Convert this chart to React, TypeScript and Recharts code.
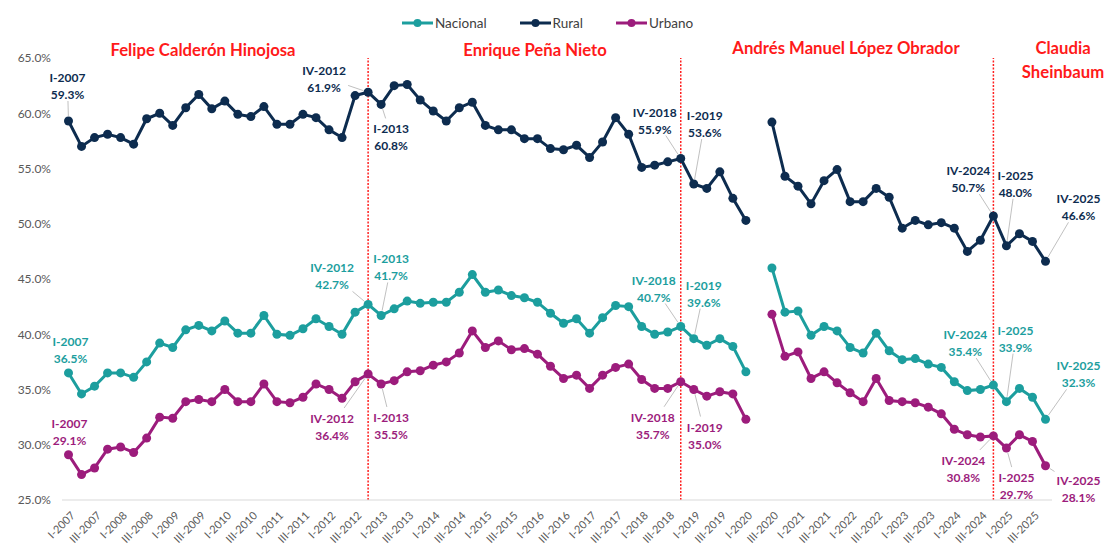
import { LabelList, Line, LineChart, ReferenceLine, XAxis, YAxis } from "recharts";

const YEARS = [2007, 2008, 2009, 2010, 2011, 2012, 2013, 2014, 2015, 2016, 2017, 2018, 2019, 2020, 2021, 2022, 2023, 2024, 2025];
const QUARTERS = ["I", "II", "III", "IV"];
const CATEGORIES = YEARS.flatMap((y) => QUARTERS.map((q) => `${q}-${y}`));

// II-2020 has no survey value, so the lines break there
const RURAL = [
  59.3, 57.0, 57.8, 58.1, 57.8, 57.2, 59.5, 60.0, 58.9, 60.5, 61.7, 60.4, 61.1, 59.9, 59.7, 60.6, 59.0, 59.0, 59.9, 59.6, 58.5, 57.8, 61.6, 61.9,
  60.8, 62.5, 62.6, 61.2, 60.2, 59.3, 60.5, 61.0, 58.9, 58.5, 58.5, 57.7, 57.7, 56.8, 56.7, 57.1, 56.0, 57.4, 59.6, 58.1, 55.1, 55.3, 55.6, 55.9,
  53.6, 53.2, 54.7, 52.3, 50.3, null,
  59.2, 54.3, 53.4, 51.8, 53.9, 54.9, 52.0, 52.0, 53.2, 52.4, 49.6, 50.3, 49.9, 50.1, 49.6, 47.5, 48.5, 50.7, 48.0, 49.1, 48.4, 46.6,
];
const NACIONAL = [
  36.5, 34.6, 35.3, 36.5, 36.5, 36.1, 37.5, 39.2, 38.8, 40.4, 40.8, 40.3, 41.2, 40.1, 40.1, 41.7, 40.0, 39.9, 40.5, 41.4, 40.7, 40.0, 42.0, 42.7,
  41.7, 42.3, 43.0, 42.8, 42.9, 42.9, 43.8, 45.4, 43.8, 44.0, 43.5, 43.3, 42.9, 41.9, 41.0, 41.4, 40.1, 41.5, 42.6, 42.5, 40.7, 40.0, 40.2, 40.7,
  39.6, 39.0, 39.6, 38.9, 36.6, null,
  46.0, 42.0, 42.1, 39.9, 40.7, 40.3, 38.8, 38.3, 40.1, 38.5, 37.7, 37.8, 37.3, 37.0, 35.7, 34.9, 35.0, 35.4, 33.9, 35.1, 34.3, 32.3,
];
const URBANO = [
  29.1, 27.3, 27.9, 29.6, 29.8, 29.3, 30.6, 32.5, 32.4, 33.9, 34.1, 33.9, 35.0, 33.9, 33.9, 35.5, 33.9, 33.8, 34.3, 35.5, 35.0, 34.2, 35.7, 36.4,
  35.5, 35.8, 36.6, 36.7, 37.2, 37.5, 38.3, 40.3, 38.8, 39.4, 38.6, 38.7, 38.2, 37.1, 36.0, 36.3, 35.1, 36.3, 37.0, 37.3, 35.9, 35.1, 35.1, 35.7,
  35.0, 34.4, 34.8, 34.6, 32.3, null,
  41.8, 38.0, 38.4, 36.0, 36.6, 35.6, 34.7, 33.9, 36.0, 34.0, 33.9, 33.8, 33.4, 32.8, 31.4, 30.9, 30.7, 30.8, 29.7, 30.9, 30.3, 28.1,
];

const Y_TICKS = [25, 30, 35, 40, 45, 50, 55, 60, 65];
const TERM_ENDS = ["IV-2012", "IV-2018", "IV-2024"];

const data = CATEGORIES.map((periodo, i) => ({
  periodo,
  nacional: NACIONAL[i],
  rural: RURAL[i],
  urbano: URBANO[i],
}));

const COLORS = { nacional: "#1c9e9e", rural: "#0d2c4f", urbano: "#9c1c7c" };

// label text-block centre, offset from the point (px)
const ANNOTATIONS: Record<string, Record<number, [number, number]>> = {
  rural: { 0: [-1, -37], 23: [-44, -15], 24: [10, 31], 47: [-26, -40], 48: [11, -62], 71: [-25, -39], 72: [9, -64], 75: [33, -56] },
  nacional: { 0: [2, -25], 23: [-36, -30], 24: [10, -50], 47: [-27, -40], 48: [10, -47], 71: [-28, -44], 72: [9, -65], 75: [33, -47] },
  urbano: { 0: [1, -25], 23: [-36, 51], 24: [10, 40], 47: [-28, 42], 48: [11, 44], 71: [-30, 31], 72: [10, 36], 75: [33, 21] },
};

const PRESIDENTS = [
  { name: "Felipe Calderón Hinojosa", x: 203, y: 50 },
  { name: "Enrique Peña Nieto", x: 535, y: 50 },
  { name: "Andrés Manuel López Obrador", x: 846, y: 48 },
  { name: "Claudia", x: 1063, y: 48 },
  { name: "Sheinbaum", x: 1063, y: 72 },
];

const makeAnnotation = (key: string, color: string) => (props: any) => {
  const { x, y, index, value } = props;
  const cfg = ANNOTATIONS[key][index];
  if (!cfg || value == null) return null;
  const cx = x + cfg[0];
  const cy = y + cfg[1];
  const dx = x - cx;
  const dy = y - cy;
  const t = Math.min(24 / Math.abs(dx || 0.001), 17 / Math.abs(dy || 0.001));
  const sx = cx + dx * t;
  const sy = cy + dy * t;
  const len = Math.hypot(dx, dy);
  const ex = x - (dx / len) * 5;
  const ey = y - (dy / len) * 5;
  const showLeader = t < 1 && Math.hypot(ex - sx, ey - sy) > 4;
  return (
    <g>
      {showLeader && <line x1={sx} y1={sy} x2={ex} y2={ey} stroke="#b0b0b0" strokeWidth={0.8} />}
      <text x={cx} y={cy} textAnchor="middle" fontSize={12} fontWeight={700} fill={color}>
        <tspan x={cx} dy={-2}>{CATEGORIES[index]}</tspan>
        <tspan x={cx} dy={17}>{`${Number(value).toFixed(1)}%`}</tspan>
      </text>
    </g>
  );
};

const XTick = ({ x, y, payload }: any) => (
  <text
    x={x + 4}
    y={y + 5}
    transform={`rotate(-45, ${x + 4}, ${y + 5})`}
    textAnchor="end"
    dominantBaseline="central"
    fontSize={11}
    fill="#595959"
  >
    {payload.value}
  </text>
);

const LEGEND = [
  { key: "nacional", label: "Nacional" },
  { key: "rural", label: "Rural" },
  { key: "urbano", label: "Urbano" },
];

export default function App() {
  return (
    <div style={{ position: "fixed", left: 0, top: 0, width: 1105, height: 547, background: "#fff", fontFamily: "Lato, sans-serif" }}>
      <div style={{ position: "absolute", left: 402, top: 13, display: "flex", alignItems: "center", height: 20 }}>
        {LEGEND.map(({ key, label }) => (
          <div key={key} style={{ display: "flex", alignItems: "center", marginRight: 33 }}>
            <svg width={31} height={10}>
              <line x1={0} y1={5} x2={31} y2={5} stroke={COLORS[key as keyof typeof COLORS]} strokeWidth={3} />
              <circle cx={15.5} cy={5} r={4} fill={COLORS[key as keyof typeof COLORS]} />
            </svg>
            <span style={{ fontSize: 13.5, color: "#404040", marginLeft: 2 }}>{label}</span>
          </div>
        ))}
      </div>
      {PRESIDENTS.map((p) => (
        <div
          key={p.name}
          style={{
            position: "absolute",
            left: p.x,
            top: p.y,
            transform: "translate(-50%, -50%)",
            color: "#ff1a1a",
            fontWeight: 700,
            fontSize: 16.7,
            whiteSpace: "nowrap",
          }}
        >
          {p.name}
        </div>
      ))}
      <LineChart width={1105} height={547} data={data} margin={{ top: 58, right: 53, bottom: 0, left: 8 }}>
        <XAxis
          dataKey="periodo"
          interval={1}
          height={47}
          tick={<XTick />}
          tickLine={false}
          axisLine={{ stroke: "#d9d9d9" }}
          padding={{ left: 6.5, right: 6.5 }}
        />
        <YAxis
          domain={[25, 65]}
          ticks={Y_TICKS}
          width={54}
          tickMargin={5}
          tickLine={false}
          axisLine={false}
          tick={{ fontSize: 12, fill: "#595959" }}
          tickFormatter={(v: number) => `${v.toFixed(1)}%`}
        />
        {TERM_ENDS.map((t) => (
          <ReferenceLine key={t} x={t} stroke="#ff2020" strokeDasharray="2 1.5" strokeWidth={1.5} />
        ))}
        {(["rural", "nacional", "urbano"] as const).map((key) => (
          <Line
            key={key}
            dataKey={key}
            stroke={COLORS[key]}
            strokeWidth={3}
            dot={{ r: 4.5, fill: COLORS[key], strokeWidth: 0 }}
            activeDot={false}
            isAnimationActive={false}
          >
            <LabelList dataKey={key} content={makeAnnotation(key, COLORS[key])} />
          </Line>
        ))}
      </LineChart>
    </div>
  );
}
